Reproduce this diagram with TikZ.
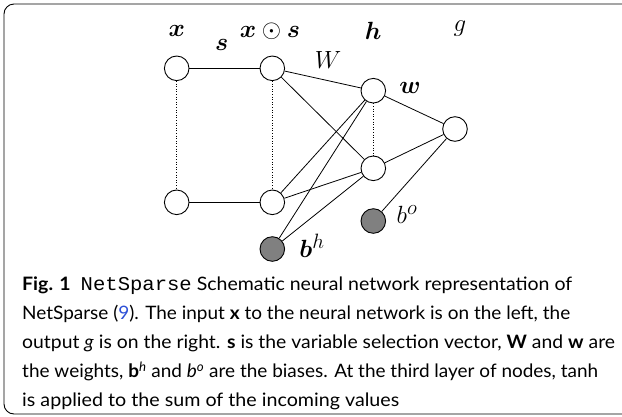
\documentclass[tikz,border=0pt]{standalone}
\usepackage{amsmath,bm}
\usepackage{fontspec}
\setmainfont{Lato}
\newfontfamily\capmono{Liberation Mono}
\definecolor{biasgray}{RGB}{128,128,128}
\definecolor{refblue}{RGB}{45,80,215}
\newcommand\fitline[2]{\resizebox{#1}{\height}{#2}}
\begin{document}
\begin{tikzpicture}[x=1pt,y=-1pt,
  neuron/.style={circle,draw,line width=0.9pt,minimum size=24.6pt,inner sep=0pt,fill=white},
  bias/.style={neuron,fill=biasgray},
  conn/.style={line width=0.8pt},
  dotconn/.style={line width=0.6pt,dotted},
  lab/.style={inner sep=0pt,font=\fontsize{30}{32}\selectfont},
  capline/.style={anchor=base west,inner sep=0pt,font=\fontsize{18.5}{29}\selectfont}]
\useasboundingbox (0,0) rectangle (622,416);
% frame
\draw[line width=0.9pt,rounded corners=10pt] (624,4) -- (4,4) -- (4,414) -- (624,414);
% neurons
\node[neuron] (x1) at (176.7,68.3) {};
\node[neuron] (x2) at (176.7,202.3) {};
\node[neuron] (s1) at (272.3,68.3) {};
\node[neuron] (s2) at (272.3,202.3) {};
\node[neuron] (h1) at (373.3,90.7) {};
\node[neuron] (h2) at (373.3,168.3) {};
\node[neuron] (g) at (455,129) {};
\node[bias] (bh) at (272.3,249) {};
\node[bias] (bo) at (373.3,221) {};
% connectors
\draw[conn] (x1) -- (s1);
\draw[conn] (x2) -- (s2);
\draw[dotconn] (x1) -- (x2);
\draw[dotconn] (s1) -- (s2);
\draw[dotconn] (h1) -- (h2);
\draw[conn] (s1) -- (h1);
\draw[conn] (s1) -- (h2);
\draw[conn] (s2) -- (h1);
\draw[conn] (s2) -- (h2);
\draw[conn] (bh) -- (h1);
\draw[conn] (bh) -- (h2);
\draw[conn] (h1) -- (g);
\draw[conn] (h2) -- (g);
\draw[conn] (bo) -- (g);
% labels
\node[lab] (lx) at (176.7,31) {$\bm{x}$};
\node[lab] (ls) at (221.7,45) {$\bm{s}$};
\node[lab] (lxs) at (270,31) {$\bm{x}\odot\bm{s}$};
\node[lab] (lW) at (328,60) {$W$};
\node[lab] (lh) at (373.3,31) {$\bm{h}$};
\node[lab,font=\fontsize{33}{34}\selectfont] (lg) at (460,29) {$g$};
\node[lab] (lw) at (410,88) {$\bm{w}$};
\node[lab] (lbo) at (407,215) {$b^o$};
\node[lab] (lbh) at (312,246) {$\bm{b}^h$};
% caption
\node[capline] (c1) at (22,290.5) {\fitline{550pt}{\textbf{Fig. 1}\ \ {\capmono\fontsize{19.5}{29}\selectfont NetSparse} Schematic neural network representation of}};
\node[capline] (c2) at (22,319.5) {\fitline{548pt}{NetSparse (\textcolor{refblue}{9}). The input \textbf{x} to the neural network is on the left, the}};
\node[capline] (c3) at (22,348.5) {\fitline{593pt}{output \textit{g} is on the right. \textbf{s} is the variable selection vector, \textbf{W} and \textbf{w} are}};
\node[capline] (c4) at (22,377.5) {\fitline{576pt}{the weights, \textbf{b}$^{\textit{h}}$ and \textit{b}$^{\textit{o}}$ are the biases. At the third layer of nodes, tanh}};
\node[capline] (c5) at (22,406.5) {\fitline{377pt}{is applied to the sum of the incoming values}};
\end{tikzpicture}
\end{document}
